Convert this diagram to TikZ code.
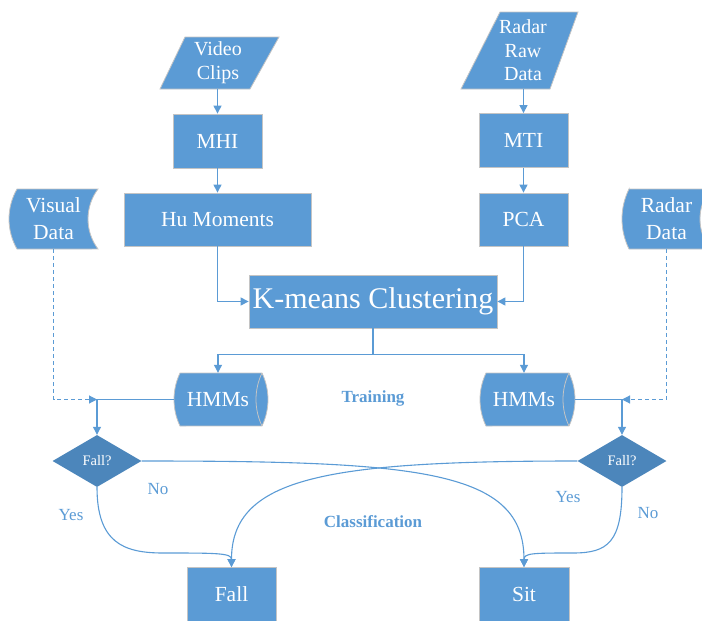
\documentclass[tikz,border=0pt]{standalone}
\usepackage{fontspec}
\setmainfont{Liberation Serif}
\usetikzlibrary{arrows.meta,shapes.geometric,calc}
\definecolor{boxblue}{HTML}{5B9BD5}
\definecolor{dblue}{HTML}{4C86BB}
\definecolor{edgegray}{HTML}{C4C4C4}
\begin{document}
\begin{tikzpicture}[x=1pt,y=1pt,
  box/.style={rectangle,fill=boxblue,draw=edgegray,line width=0.8pt,text=white,inner sep=0pt,font=\fontsize{21.5}{25}\selectfont},
  shapefill/.style={fill=boxblue,draw=edgegray,line width=0.8pt},
  txt/.style={text=white,inner sep=0pt,align=center},
  lbl/.style={inner sep=0pt,text=boxblue,font=\fontsize{17}{20}\selectfont},
  blbl/.style={inner sep=0pt,text=boxblue,font=\fontsize{17}{20}\selectfont\bfseries},
  conn/.style={draw=boxblue,line width=1.1pt},
  arr/.style={conn,-{Triangle[length=8pt,width=8pt]}},
  decision/.style={diamond,fill=dblue,minimum width=89,minimum height=52,inner sep=0pt,text=white,font=\fontsize{14.5}{17}\selectfont}
]
\useasboundingbox (0,0) rectangle (702,-621);

% ---- input shapes ----
\path[shapefill] (185,-37) -- (279,-37) -- (250,-89) -- (160,-89) -- cycle;
\node[txt,font=\fontsize{20}{24}\selectfont,minimum width=90,minimum height=52] (vc) at (218,-63) {Video\\Clips};

\path[shapefill] (500,-12) -- (578,-12) -- (550,-89) -- (461,-89) -- cycle;
\node[txt,font=\fontsize{20}{23.5}\selectfont,minimum width=90,minimum height=77] (rrd) at (523,-50.5) {Radar\\Raw\\Data};

\path[shapefill] (17,-189) -- (98,-189) arc[start angle=143.13,end angle=216.87,radius=50pt]
  -- (17,-249) arc[start angle=209.86,end angle=150.14,radius=60.25pt] -- cycle;
\node[txt,font=\fontsize{21.5}{27}\selectfont,minimum width=89,minimum height=60] (vd) at (53.5,-219) {Visual\\Data};

\path[shapefill] (629,-189) -- (710,-189) arc[start angle=143.13,end angle=216.87,radius=50pt]
  -- (629,-249) arc[start angle=206.27,end angle=153.73,radius=67.79pt] -- cycle;
\node[txt,font=\fontsize{21.5}{27}\selectfont,minimum width=89,minimum height=60] (rd) at (666.5,-219) {Radar\\Data};

% ---- processing boxes ----
\node[box,minimum width=89,minimum height=54] (mhi) at (217.5,-141) {MHI};
\node[box,minimum width=89,minimum height=54] (mti) at (523.5,-140.5) {MTI};
\node[box,minimum width=187,minimum height=53] (hu) at (217.5,-219.5) {Hu Moments};
\node[box,minimum width=89,minimum height=53] (pca) at (523.5,-219.5) {PCA};
\node[box,minimum width=248,minimum height=53,font=\fontsize{30}{34}\selectfont] (km) at (373,-301.5) {K-means Clustering};

% ---- HMM cylinders ----
\path[shapefill] (180,-373) -- (262,-373) arc[start angle=25.5,end angle=-25.5,radius=61.5pt]
  -- (180,-426) arc[start angle=205.5,end angle=154.5,radius=61.5pt] -- cycle;
\draw[edgegray,line width=0.8pt] (262,-373) arc[start angle=154.5,end angle=205.5,radius=61.5pt];
\node[txt,font=\fontsize{21.5}{25}\selectfont,minimum width=88,minimum height=53] (hmmL) at (218,-399.5) {HMMs};

\path[shapefill] (486,-373) -- (569,-373) arc[start angle=25.5,end angle=-25.5,radius=61.5pt]
  -- (486,-426) arc[start angle=205.5,end angle=154.5,radius=61.5pt] -- cycle;
\draw[edgegray,line width=0.8pt] (569,-373) arc[start angle=154.5,end angle=205.5,radius=61.5pt];
\node[txt,font=\fontsize{21.5}{25}\selectfont,minimum width=88,minimum height=53] (hmmR) at (524,-399.5) {HMMs};

% ---- decisions and outputs ----
\node[decision] (dL) at (97,-461) {Fall?};
\node[decision] (dR) at (622,-461) {Fall?};
\node[box,minimum width=89,minimum height=54] (fall) at (231.5,-594.5) {Fall};
\node[box,minimum width=90,minimum height=54] (sit) at (524,-594.5) {Sit};

% ---- connectors ----
\draw[arr] (vc.south -| mhi.north) -- (mhi.north);
\draw[arr] (rrd.south -| mti.north) -- (mti.north);
\draw[arr] (mhi.south) -- (hu.north);
\draw[arr] (mti.south) -- (pca.north);
\draw[arr] (hu.south) |- (km.west);
\draw[arr] (pca.south) |- (km.east);
\draw[conn] (km.south) -- ++(0,-26) coordinate (split);
\draw[arr] (split) -| (hmmL.north);
\draw[arr] (split) -| (hmmR.north);

\draw[arr] (hmmL.west) -| (dL.north);
\draw[arr] ([xshift=7pt]hmmR.east) -| (dR.north);
\draw[arr,dash pattern=on 4pt off 3pt] (vd.south) |- (dL.north |- hmmL.west);
\draw[arr,dash pattern=on 4pt off 3pt] (rd.south) |- (dR.north |- hmmR.east);

\draw[arr] (dL.east) .. controls +(278,0) and +(0,97) .. (sit.north);
\draw[arr] (dR.west) .. controls +(-250,0) and +(0,90) .. (fall.north);
\draw[arr] (dL.south) .. controls +(0,-55) and +(-40,0) .. (163,-553)
  .. controls +(55,0) and +(0,14) .. (fall.north);
\draw[arr] (dR.south) .. controls +(0,-55) and +(35,0) .. (573,-553)
  .. controls +(-40,0) and +(0,14) .. (sit.north);

% ---- labels ----
\node[lbl] (noL) at (158,-489) {No};
\node[lbl] (yesL) at (71,-515) {Yes};
\node[lbl] (yesR) at (568,-497) {Yes};
\node[lbl] (noR) at (648,-513) {No};
\node[blbl] (train) at (373,-398) {Training};
\node[blbl] (classif) at (373,-522) {Classification};
\end{tikzpicture}
\end{document}
